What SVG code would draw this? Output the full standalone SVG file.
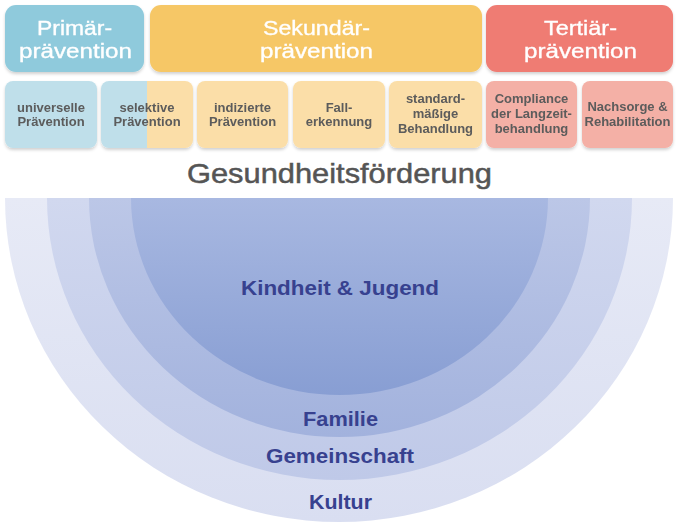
<svg xmlns="http://www.w3.org/2000/svg" width="685" height="524" viewBox="0 0 685 524">
<style>
.hd{font-family:"Liberation Sans",Arial,sans-serif;font-size:21px;fill:#fff;stroke:#fff;stroke-width:0.35px;text-anchor:middle}
.sb{font-family:"Liberation Sans",Arial,sans-serif;font-size:13px;font-weight:bold;fill:#5b5b5b;text-anchor:middle}
.ti{font-family:"Liberation Sans",Arial,sans-serif;font-size:28px;fill:#555;stroke:#555;stroke-width:0.5px;text-anchor:middle}
.lv{font-family:"Liberation Sans",Arial,sans-serif;font-size:20px;font-weight:bold;fill:#37418f;text-anchor:middle}
</style>
<defs>
<filter id="sh" x="-10%" y="-10%" width="120%" height="130%">
<feDropShadow dx="0" dy="2" stdDeviation="1.5" flood-color="#000" flood-opacity="0.18"/>
</filter>
<linearGradient id="g1" x1="0" y1="0" x2="0" y2="1"><stop offset="0" stop-color="#e7eaf6"/><stop offset="1" stop-color="#d9def1"/></linearGradient>
<linearGradient id="g2" x1="0" y1="0" x2="0" y2="1"><stop offset="0" stop-color="#d1d8ef"/><stop offset="1" stop-color="#bfc9e8"/></linearGradient>
<linearGradient id="g3" x1="0" y1="0" x2="0" y2="1"><stop offset="0" stop-color="#bcc7e7"/><stop offset="1" stop-color="#a2b2dd"/></linearGradient>
<linearGradient id="g4" x1="0" y1="0" x2="0" y2="1"><stop offset="0" stop-color="#a8b8e1"/><stop offset="1" stop-color="#889ed3"/></linearGradient>
<clipPath id="c2"><rect x="101" y="81" width="92" height="67" rx="8"/></clipPath>
</defs>

<g id="primaer" filter="url(#sh)">
<rect x="5" y="5" width="139" height="67" rx="11" fill="#8fcadc"/>
<text class="hd" x="74.5" y="35" textLength="75" lengthAdjust="spacingAndGlyphs">Primär-</text>
<text class="hd" x="75.5" y="58" textLength="113" lengthAdjust="spacingAndGlyphs">prävention</text>
</g>
<g id="sekundaer" filter="url(#sh)">
<rect x="150" y="5" width="332" height="67" rx="11" fill="#f6c766"/>
<text class="hd" x="316.5" y="35" textLength="107" lengthAdjust="spacingAndGlyphs">Sekundär-</text>
<text class="hd" x="316.5" y="58" textLength="113" lengthAdjust="spacingAndGlyphs">prävention</text>
</g>
<g id="tertiaer" filter="url(#sh)">
<rect x="486" y="5" width="187" height="67" rx="11" fill="#ef7b73"/>
<text class="hd" x="580.5" y="35" textLength="73" lengthAdjust="spacingAndGlyphs">Tertiär-</text>
<text class="hd" x="580.5" y="58" textLength="113" lengthAdjust="spacingAndGlyphs">prävention</text>
</g>

<g id="universelle" filter="url(#sh)">
<rect x="5" y="81" width="92" height="67" rx="8" fill="#bfdfea"/>
<text class="sb" x="51" y="112">universelle</text>
<text class="sb" x="51" y="126">Prävention</text>
</g>
<g id="selektive" filter="url(#sh)">
<g clip-path="url(#c2)">
<rect x="101" y="81" width="46" height="67" fill="#bfdfea"/>
<rect x="147" y="81" width="46" height="67" fill="#fbdea8"/>
</g>
<text class="sb" x="147" y="112">selektive</text>
<text class="sb" x="147" y="126">Prävention</text>
</g>
<g id="indizierte" filter="url(#sh)">
<rect x="197" y="81" width="91" height="67" rx="8" fill="#fbdea8"/>
<text class="sb" x="242.5" y="112">indizierte</text>
<text class="sb" x="242.5" y="126">Prävention</text>
</g>
<g id="fallerkennung" filter="url(#sh)">
<rect x="293" y="81" width="92" height="67" rx="8" fill="#fbdea8"/>
<text class="sb" x="339" y="112">Fall-</text>
<text class="sb" x="339" y="126">erkennung</text>
</g>
<g id="standard" filter="url(#sh)">
<rect x="389" y="81" width="93" height="67" rx="8" fill="#fbdea8"/>
<text class="sb" x="435.5" y="103">standard-</text>
<text class="sb" x="435.5" y="118">mäßige</text>
<text class="sb" x="435.5" y="133">Behandlung</text>
</g>
<g id="compliance" filter="url(#sh)">
<rect x="486" y="81" width="91" height="67" rx="8" fill="#f4b0a6"/>
<text class="sb" x="531.5" y="103">Compliance</text>
<text class="sb" x="531.5" y="118">der Langzeit-</text>
<text class="sb" x="531.5" y="133">behandlung</text>
</g>
<g id="nachsorge" filter="url(#sh)">
<rect x="582" y="81" width="91" height="67" rx="8" fill="#f4b0a6"/>
<text class="sb" x="627.5" y="111">Nachsorge &amp;</text>
<text class="sb" x="627.5" y="126">Rehabilitation</text>
</g>

<g id="gesundheitsfoerderung">
<text class="ti" x="339.5" y="183" textLength="305" lengthAdjust="spacingAndGlyphs">Gesundheitsförderung</text>
</g>

<g id="kultur">
<path d="M5,198 A334,324 0 0 0 673,198 Z" fill="url(#g1)"/>
<text class="lv" x="340.5" y="509" textLength="63" lengthAdjust="spacingAndGlyphs">Kultur</text>
</g>
<g id="gemeinschaft">
<path d="M47,198 A292.5,282 0 0 0 632,198 Z" fill="url(#g2)"/>
<text class="lv" x="340" y="463" textLength="148" lengthAdjust="spacingAndGlyphs">Gemeinschaft</text>
</g>
<g id="familie">
<path d="M89,198 A250.5,239 0 0 0 590,198 Z" fill="url(#g3)"/>
<text class="lv" x="340.5" y="426" textLength="75" lengthAdjust="spacingAndGlyphs">Familie</text>
</g>
<g id="kindheit">
<path d="M131,198 A208.5,197 0 0 0 548,198 Z" fill="url(#g4)"/>
<text class="lv" x="340" y="295" textLength="198" lengthAdjust="spacingAndGlyphs">Kindheit &amp; Jugend</text>
</g>
<g id="connectors"/>
</svg>
